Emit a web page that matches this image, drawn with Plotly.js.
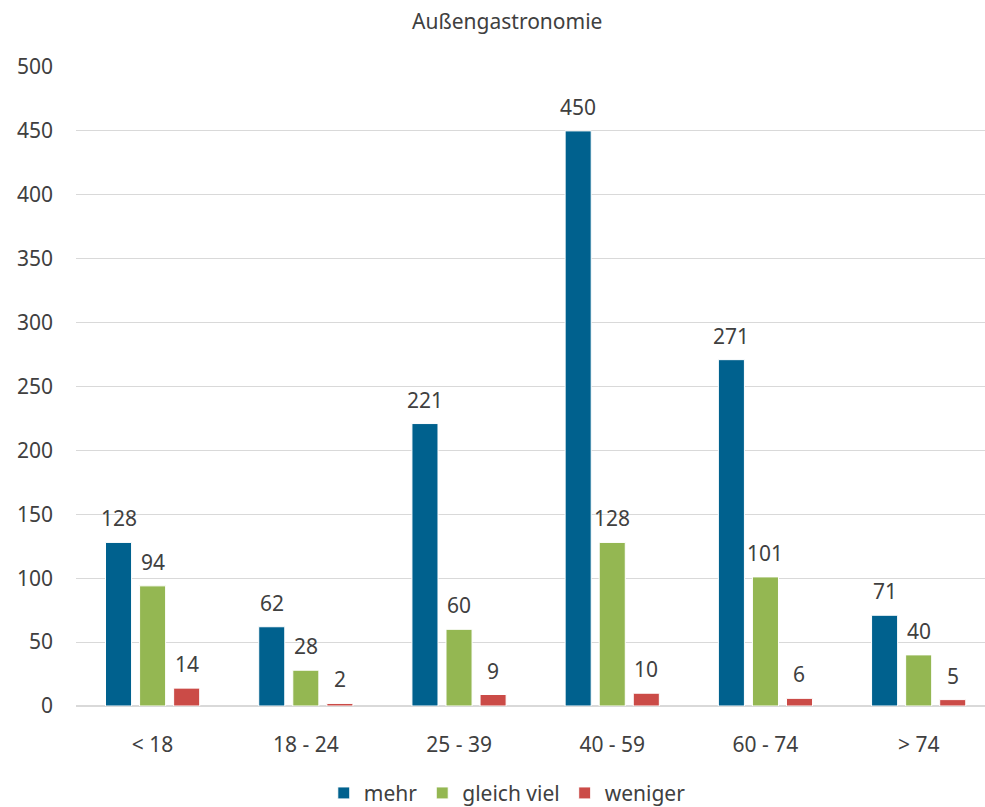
<!DOCTYPE html>
<html>
<head>
<meta charset="utf-8">
<script src="https://cdn.plot.ly/plotly-3.0.1.min.js"></script>
<style>html,body{margin:0;padding:0;background:#fff;}#chart{width:985px;height:807px;}</style>
</head>
<body>
<div id="chart"></div>
<script>
const categories = ["< 18", "18 - 24", "25 - 39", "40 - 59", "60 - 74", "> 74"];
const mehr = [128, 62, 221, 450, 271, 71];
const gleichViel = [94, 28, 60, 128, 101, 40];
const weniger = [14, 2, 9, 10, 6, 5];
const seriesNames = ["mehr", "gleich viel", "weniger"];
const yTicks = [0, 50, 100, 150, 200, 250, 300, 350, 400, 450, 500];

const colors = ["#00618E", "#94B752", "#CB4B47"];
const txt = "#404040";
const fontFam = "'Noto Sans', 'Open Sans', sans-serif";
const series = [mehr, gleichViel, weniger];

const traces = series.map((vals, i) => ({
  type: "bar",
  name: seriesNames[i],
  x: categories,
  y: vals,
  cliponaxis: false,
  marker: {color: colors[i], line: {color: "#ffffff", width: 1}}
}));

// value labels above each bar, positioned via axis coordinates
const slotPx = 34;
const annotations = [];
series.forEach((vals, i) => {
  vals.forEach((v, j) => {
    annotations.push({
      x: categories[j], y: v, xref: "x", yref: "y",
      text: String(v), showarrow: false,
      xshift: (i - 1) * slotPx, yshift: 8,
      xanchor: "center", yanchor: "bottom",
      font: {size: 21, color: txt, family: fontFam}
    });
  });
});

const layout = {
  width: 985, height: 807,
  margin: {l: 76, r: 0, t: 67, b: 101},
  paper_bgcolor: "#fff", plot_bgcolor: "#fff",
  font: {family: fontFam, color: txt, size: 21},
  title: {text: "Außengastronomie", font: {size: 21, color: txt, family: fontFam}, x: 0.515, xref: "container", xanchor: "center", y: 0.973, yref: "container", yanchor: "middle"},
  barmode: "group",
  bargap: 0.333,
  bargroupgap: 0.235,
  annotations: annotations,
  xaxis: {
    type: "category",
    range: [-0.5, 5.433],
    showgrid: false,
    showline: false,
    zeroline: false,
    ticks: "",
    ticklabelstandoff: 24,
    tickfont: {size: 21, color: txt}
  },
  yaxis: {
    range: [0, 500],
    tickvals: yTicks,
    ticktext: yTicks.map(String),
    showgrid: true,
    gridcolor: "#d9d9d9",
    gridwidth: 1,
    zeroline: true,
    zerolinecolor: "#d9d9d9",
    zerolinewidth: 1.5,
    showline: false,
    ticks: "",
    ticklabelstandoff: 22,
    tickfont: {size: 21, color: txt}
  },
  showlegend: true,
  legend: {
    orientation: "h",
    xref: "container", yref: "container",
    x: 0.515, xanchor: "center",
    y: 0.017, yanchor: "middle",
    font: {size: 21, color: txt},
    itemwidth: 30,
    traceorder: "normal"
  }
};

Plotly.newPlot("chart", traces, layout, {displayModeBar: false, staticPlot: true});
</script>
</body>
</html>
